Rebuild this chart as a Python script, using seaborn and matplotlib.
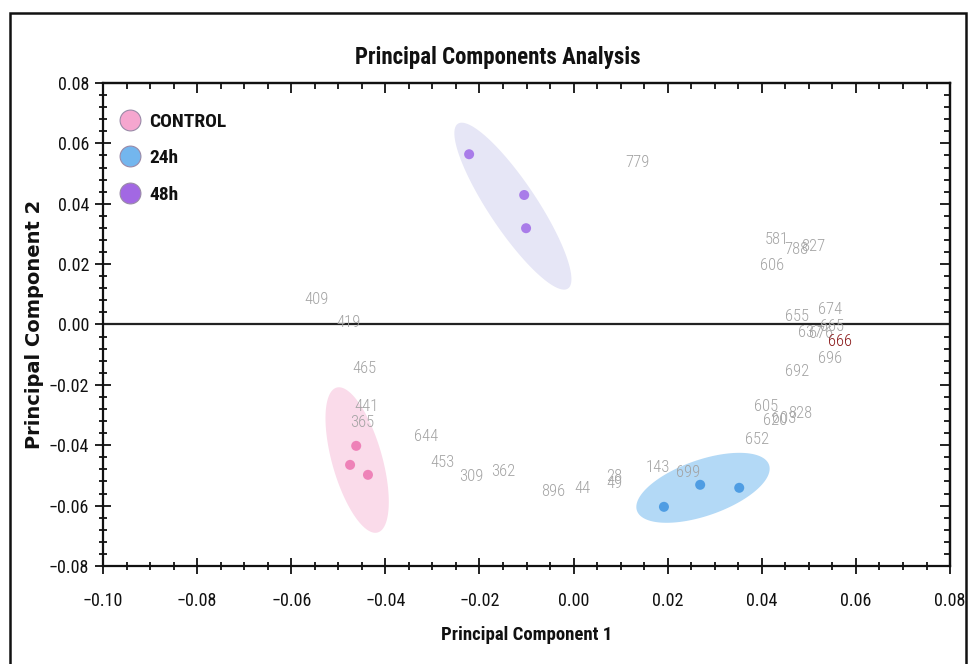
import numpy as np
import pandas as pd
import matplotlib
matplotlib.use('Agg')
import matplotlib.pyplot as plt
import seaborn as sns
from matplotlib.lines import Line2D
from matplotlib.patches import Rectangle
from matplotlib.ticker import MultipleLocator, FuncFormatter

sns.set_theme(style="white")
plt.rcParams['font.family'] = ['Roboto Condensed', 'DejaVu Sans']

# --- data ---
groups = ['CONTROL', '24h', '48h']
control_x = [-0.0462, -0.0475, -0.0437]
control_y = [-0.0402, -0.0465, -0.0498]
h24_x = [0.0192, 0.0269, 0.0352]
h24_y = [-0.0604, -0.0531, -0.0541]
h48_x = [-0.0222, -0.0105, -0.0101]
h48_y = [0.0564, 0.0429, 0.0319]

# group ellipses: centre, major half-axis vector, minor half-axis vector (data units)
ell_center = [(-0.0460, -0.0449), (0.0275, -0.0541), (-0.0129, 0.0392)]
ell_major = [(0.00436, -0.0240), (0.01403, 0.00761), (0.01169, -0.0273)]
ell_minor = [(0.00512, 0.00225), (0.00196, -0.00874), (0.00425, 0.0044)]

# loading labels
lab_text = ['779', '581', '788', '827', '606', '409', '419', '465', '441', '365',
            '644', '453', '309', '362', '896', '44', '28', '49', '143', '699',
            '652', '605', '620', '603', '828', '692', '655', '674', '637', '665',
            '676', '696', '666']
lab_x = [0.0135, 0.0432, 0.0473, 0.0509, 0.0422, -0.0547, -0.0479, -0.0445, -0.0441, -0.0449,
         -0.0313, -0.0279, -0.0218, -0.0150, -0.0044, 0.0018, 0.0086, 0.0086, 0.0179, 0.0243,
         0.0390, 0.0409, 0.0428, 0.0447, 0.0481, 0.0475, 0.0475, 0.0545, 0.0503, 0.0550,
         0.0525, 0.0545, 0.0566]
lab_y = [0.0535, 0.0280, 0.0247, 0.0257, 0.0197, 0.0084, 0.0005, -0.0147, -0.0273, -0.0326,
         -0.0372, -0.0458, -0.0505, -0.0488, -0.0554, -0.0544, -0.0505, -0.0527, -0.0475, -0.0491,
         -0.0382, -0.0270, -0.0318, -0.0312, -0.0296, -0.0157, 0.0028, 0.0051, -0.0028, -0.0008,
         -0.0030, -0.0111, -0.0055]
lab_red = ['666']

pt_colors = {'CONTROL': '#ee82b8', '24h': '#4f9de3', '48h': '#a97ce9'}
leg_colors = ['#f5a6cf', '#73b6ee', '#a268e3']
fill_colors = ['#fadbea', '#b3d9f6', '#e6e6f6']

df = pd.DataFrame({
    'pc1': control_x + h24_x + h48_x,
    'pc2': control_y + h24_y + h48_y,
    'group': ['CONTROL'] * 3 + ['24h'] * 3 + ['48h'] * 3,
})

fig = plt.figure(figsize=(9.73, 6.64), dpi=100)
ax = fig.add_axes([0.1059, 0.1476, 0.8705, 0.7274])

t = np.linspace(0, 2 * np.pi, 200)
for c, a, b, fc in zip(ell_center, ell_major, ell_minor, fill_colors):
    ex = c[0] + a[0] * np.cos(t) + b[0] * np.sin(t)
    ey = c[1] + a[1] * np.cos(t) + b[1] * np.sin(t)
    ax.fill(ex, ey, color=fc, lw=0, zorder=1)

ax.axhline(0, color='#222222', lw=1.6, zorder=2)

for s, x, y in zip(lab_text, lab_x, lab_y):
    col = '#8b1a1a' if s in lab_red else '#a3a3a3'
    ax.text(x, y, s, color=col, fontsize=12, fontweight='light', ha='center', va='center', zorder=3)

sns.scatterplot(data=df, x='pc1', y='pc2', hue='group', palette=pt_colors, s=52,
                edgecolor='none', legend=False, ax=ax, zorder=4)

ax.set_xlim(-0.10, 0.08)
ax.set_ylim(-0.08, 0.08)
fmt = FuncFormatter(lambda v, p: f'{v:.2f}'.replace('-', '\u2212') if abs(v) > 1e-9 else '0.00')
ax.xaxis.set_major_locator(MultipleLocator(0.02))
ax.xaxis.set_minor_locator(MultipleLocator(0.005))
ax.yaxis.set_major_locator(MultipleLocator(0.02))
ax.yaxis.set_minor_locator(MultipleLocator(0.004))
ax.xaxis.set_major_formatter(fmt)
ax.yaxis.set_major_formatter(fmt)
ax.tick_params(axis='x', which='major', pad=13)
ax.tick_params(axis='y', which='major', pad=4)
ax.tick_params(which='both', direction='inout', color='#111111', width=1.3, labelsize=13,
               labelcolor='#111111', bottom=True, left=True, top=False, right=False)
ax.tick_params(which='major', length=12)
ax.tick_params(which='minor', length=6)
for sp in ax.spines.values():
    sp.set_color('#111111')
    sp.set_linewidth(1.6)

for side in ['top', 'right']:
    sec = ax.secondary_xaxis('top') if side == 'top' else ax.secondary_yaxis('right')
    axis = sec.xaxis if side == 'top' else sec.yaxis
    axis.set_major_locator(MultipleLocator(0.02))
    axis.set_minor_locator(MultipleLocator(0.005 if side == 'top' else 0.004))
    sec.tick_params(which='both', direction='in', color='#111111', width=1.3, labelleft=False,
                    labeltop=False, labelright=False, labelbottom=False)
    sec.tick_params(which='major', length=7)
    sec.tick_params(which='minor', length=4)
    sec.spines[side].set_linewidth(1.6)

ax.set_xlabel('Principal Component 1', fontsize=13.5, fontweight='bold', labelpad=11, color='#111111')
ax.set_ylabel('Principal Component 2', fontsize=14, fontweight='bold', labelpad=3,
              family='DejaVu Sans', color='#111111')
ax.set_title('Principal Components Analysis', fontsize=16.5, fontweight='bold', pad=14,
             color='#111111', x=0.466)

handles = [Line2D([0], [0], marker='o', ls='none', markersize=15, markerfacecolor=c,
                  markeredgecolor='#9a8aa8', markeredgewidth=0.8) for c in leg_colors]
leg = ax.legend(handles, groups, loc='upper left', frameon=False, bbox_to_anchor=(-0.012, 0.975),
                handletextpad=0.0, labelspacing=0.95,
                prop={'weight': 'bold', 'size': 14})
for txt in leg.get_texts():
    txt.set_color('#111111')

fig.patches.append(Rectangle((10 / 973, -0.01), 956 / 973, 1 - 13 / 664 + 0.01,
                             transform=fig.transFigure, fill=False, lw=1.8, ec='#111111'))

fig.savefig('out.png', dpi=100)
